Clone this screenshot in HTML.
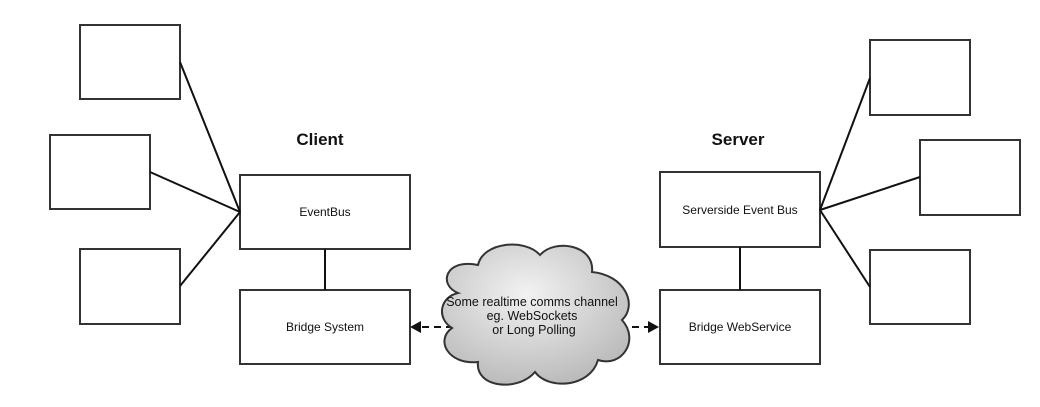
<!DOCTYPE html>
<html><head><style>body{margin:0;background:#fff}svg{display:block}</style></head><body>
<svg width="1040" height="407" viewBox="0 0 1040 407" xmlns="http://www.w3.org/2000/svg" font-family="Liberation Sans, sans-serif">
<defs>
<radialGradient id="g" cx="0.45" cy="0.35" r="0.7"><stop offset="0" stop-color="#f2f2f2"/><stop offset="1" stop-color="#b8b8b8"/></radialGradient>
</defs>
<g fill="#fff" stroke="#333" stroke-width="2">
<rect x="80" y="25" width="100" height="74"/>
<rect x="50" y="135" width="100" height="74"/>
<rect x="80" y="249" width="100" height="75"/>
<rect x="240" y="175" width="170" height="74"/>
<rect x="240" y="290" width="170" height="74"/>
<rect x="660" y="172" width="160" height="75"/>
<rect x="660" y="290" width="160" height="74"/>
<rect x="870" y="40" width="100" height="75"/>
<rect x="920" y="140" width="100" height="75"/>
<rect x="870" y="250" width="100" height="74"/>
</g>
<g stroke="#111" stroke-width="2" fill="none">
<line x1="180" y1="62" x2="240" y2="212"/>
<line x1="150" y1="172" x2="240" y2="212"/>
<line x1="180" y1="286" x2="240" y2="212"/>
<line x1="325" y1="249" x2="325" y2="290"/>
<line x1="820" y1="210" x2="870" y2="78"/>
<line x1="820" y1="210" x2="920" y2="177"/>
<line x1="820" y1="210" x2="870" y2="287"/>
<line x1="740" y1="247" x2="740" y2="290"/>
<line x1="422" y1="327" x2="450" y2="327" stroke-dasharray="7,5"/>
<line x1="632" y1="327" x2="648" y2="327" stroke-dasharray="7,5"/>
</g>
<polygon points="410,327 421,321 421,333" fill="#111"/>
<polygon points="659,327 648,321 648,333" fill="#111"/>
<path d="M458,293 C438,285 445,258 478,265 C483,242 525,238 540,255 C555,238 595,245 592,272 C625,275 638,305 622,320 C640,340 622,368 598,360 C590,388 548,390 535,372 C518,392 475,388 478,362 C448,365 435,340 452,328 C436,318 440,297 458,293 Z" fill="url(#g)" stroke="#333" stroke-width="2"/>
<g font-size="12.5" text-anchor="middle" fill="#111">
<text x="532" y="306">Some realtime comms channel</text>
<text x="532" y="320">eg. WebSockets</text>
<text x="534" y="334">or Long Polling</text>
</g>
<g font-size="12" text-anchor="middle" fill="#111">
<text x="325" y="216">EventBus</text>
<text x="325" y="331">Bridge System</text>
<text x="740" y="214">Serverside Event Bus</text>
<text x="740" y="331">Bridge WebService</text>
</g>
<g font-size="17" font-weight="bold" text-anchor="middle" fill="#111">
<text x="320" y="145">Client</text>
<text x="738" y="145">Server</text>
</g>
</svg>
</body></html>
